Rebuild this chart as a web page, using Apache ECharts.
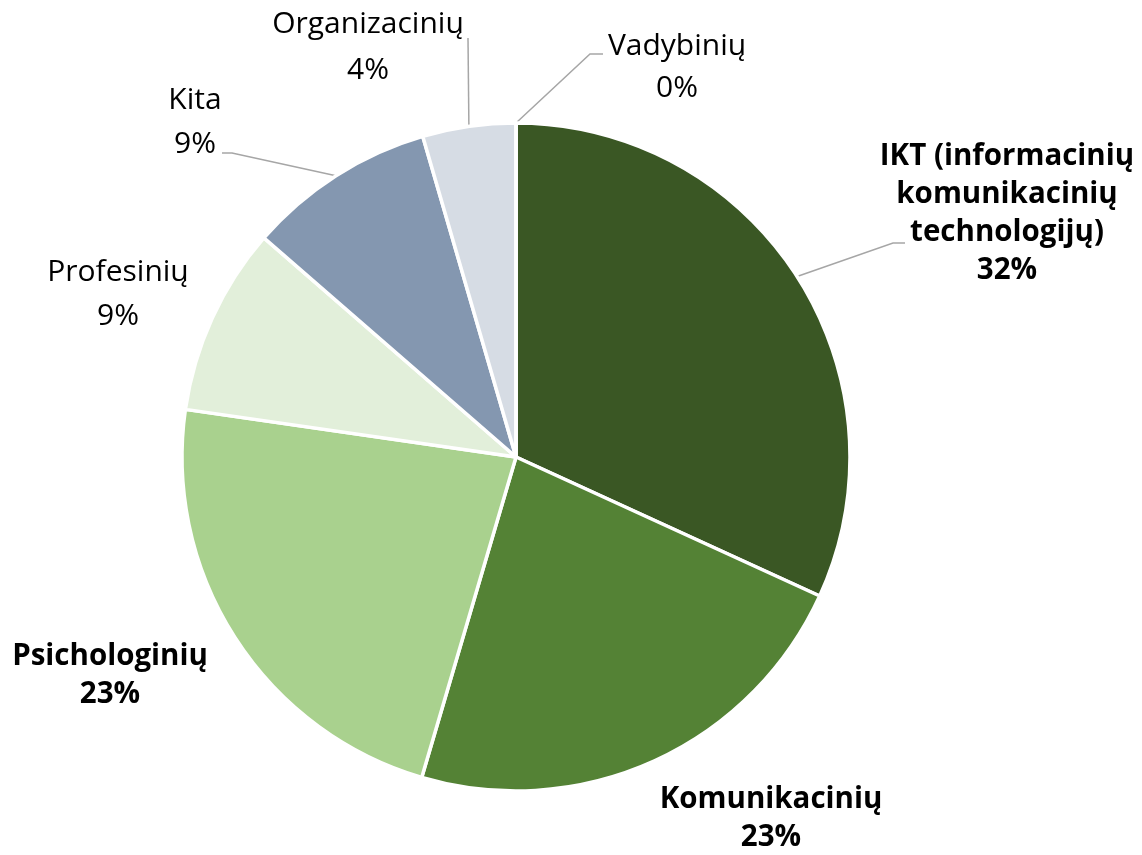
<!DOCTYPE html>
<html>
<head>
<meta charset="utf-8">
<script src="https://cdn.jsdelivr.net/npm/echarts@6/dist/echarts.min.js"></script>
<style>
  html, body { margin: 0; padding: 0; background: #fff; }
  #chart { width: 1142px; height: 855px; }
</style>
</head>
<body>
<div id="chart"></div>
<script>
// categories clockwise from 12 o'clock
const categories = ['IKT (informacinių\nkomunikacinių\ntechnologijų)', 'Komunikacinių', 'Psichologinių', 'Profesinių', 'Kita', 'Organizacinių', 'Vadybinių'];
const shares = [31.8, 22.7, 22.7, 9.1, 9.1, 4.5, 0];
const pctLabels = ['32%', '23%', '23%', '9%', '9%', '4%', '0%'];
const colors = ['#3a5724', '#548235', '#a9d18e', '#e2efda', '#8497b0', '#d6dce4', '#b4c7e7'];

const CX = 516, CY = 457, R = 334;
const total = shares.reduce((a, b) => a + b, 0);

// label placement (centre of text block) + bend/end of leader line relative to it
const labelPlace = [
  { x: 1007, y: 214, bold: true,  lh: 38, line: [[-114, 29], [-102, 29]] },
  { x: 771,  y: 819, bold: true,  lh: 38, line: null },
  { x: 110,  y: 676, bold: true,  lh: 38, line: null },
  { x: 118,  y: 294, bold: false, lh: 44, line: null },
  { x: 195,  y: 122, bold: false, lh: 44, line: [[37, 31], [27, 31]] },
  { x: 368,  y: 47,  bold: false, lh: 46, line: [[100, -9], [100, -9]] },
  { x: 677,  y: 67,  bold: false, lh: 42, line: [[-87, -13], [-74, -13]] }
];

function edgePoint(i) {
  let before = 0;
  for (let k = 0; k < i; k++) before += shares[k];
  const mid = (before + shares[i] / 2) / total * Math.PI * 2;
  return [CX + R * Math.sin(mid), CY - R * Math.cos(mid)];
}

const chart = echarts.init(document.getElementById('chart'), null, { renderer: 'canvas' });

const data = categories.map((name, i) => ({
  name,
  value: shares[i],
  itemStyle: { color: colors[i] },
  label: {
    fontWeight: labelPlace[i].bold ? 'bold' : 'normal',
    fontSize: labelPlace[i].bold ? 29.5 : 30,
    lineHeight: labelPlace[i].lh
  },
  labelLine: { show: !!labelPlace[i].line }
}));

chart.setOption({
  backgroundColor: '#ffffff',
  animation: false,
  series: [{
    type: 'pie',
    center: [CX, CY],
    radius: R,
    startAngle: 90,
    clockwise: true,
    avoidLabelOverlap: false,
    data,
    itemStyle: { borderColor: '#ffffff', borderWidth: 3.5 },
    label: {
      show: true,
      position: 'outside',
      color: '#000000',
      fontFamily: '"Open Sans", "Noto Sans", sans-serif',
      fontSize: 30,
      align: 'center',
      formatter: p => p.name + '\n' + pctLabels[p.dataIndex]
    },
    labelLine: {
      lineStyle: { color: '#a6a6a6', width: 1.5 },
      length: 10,
      length2: 10
    },
    labelLayout: function (p) {
      const pl = labelPlace[p.dataIndex];
      const out = { x: pl.x, y: pl.y, align: 'center', verticalAlign: 'middle' };
      if (pl.line) {
        const s = edgePoint(p.dataIndex);
        out.labelLinePoints = [
          s,
          [pl.x + pl.line[0][0], pl.y + pl.line[0][1]],
          [pl.x + pl.line[1][0], pl.y + pl.line[1][1]]
        ];
      }
      return out;
    }
  }]
});
</script>
</body>
</html>
